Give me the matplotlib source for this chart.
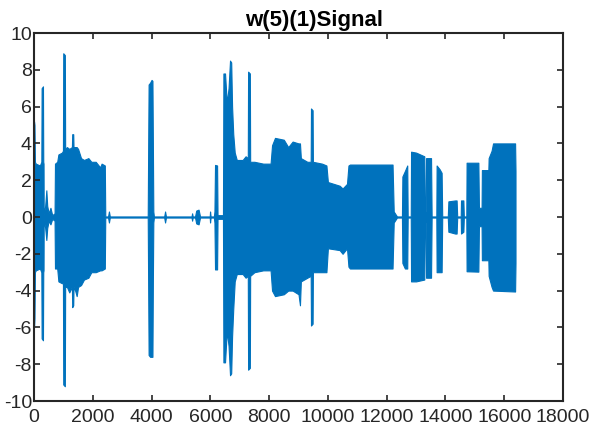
import numpy as np
import matplotlib.pyplot as plt

# Envelope of the recorded signal: sample index, upper and lower amplitude
env_t = [0, 15, 30, 60, 200, 250, 260, 305, 315, 325, 330, 380, 420, 450, 500, 560, 620, 700,
         714, 790, 830, 950, 985, 995, 1050, 1060, 1120, 1200, 1290, 1300, 1335, 1345, 1400, 1452, 1500,
         1600, 1700, 1850, 1950, 2100, 2250, 2300, 2410, 2425, 2520, 2550, 2580,
         3870, 3885, 3900, 3950, 4000, 4030, 4045, 4060, 4080, 4430, 4460, 4490,
         5360, 5380, 5400, 5480, 5520, 5600, 5650, 5980, 5990, 6010, 6120, 6140,
         6160, 6230, 6245, 6430, 6445, 6500, 6560, 6620, 6670, 6710, 6740, 6780, 6830,
         6900, 7100, 7200, 7275, 7285, 7345, 7355, 7500, 7800, 8050, 8100, 8200, 8500,
         8650, 8800, 9000, 9050, 9080, 9300, 9415, 9425, 9480, 9490, 9800, 9950,
         10000, 10400, 10500, 10650, 10700, 10750, 12200, 12240, 12350, 12520,
         12535, 12620, 12700, 12715, 12820, 12830, 13000, 13280, 13300, 13330,
         13340, 13510, 13530, 13690, 13700, 13800, 13870, 13890, 14080, 14100,
         14330, 14380, 14400, 14520, 14530, 14610, 14625, 14710, 14720, 15120,
         15140, 15230, 15240, 15460, 15470, 15570, 15620, 16370, 16384]
env_hi = [5.2, 5.0, 3.0, 2.9, 2.8, 3.0, 7.0, 7.1, 3.0, 2.9, 0.1, 0.6, 1.45, 0.6, 0.2, 0.5, 0.1, 0.2,
          2.9, 3.0, 3.4, 3.5, 3.6, 8.9, 8.8, 3.7, 3.8, 3.7, 3.8, 4.5, 4.5, 3.8, 3.8, 3.8, 3.7,
          3.2, 3.1, 3.2, 3.0, 3.0, 2.7, 2.9, 2.8, 0.03, 0.03, 0.3, 0.03,
          0.03, 3.8, 7.2, 7.3, 7.45, 7.4, 4.0, 0.3, 0.03, 0.03, 0.3, 0.03,
          0.03, 0.2, 0.03, 0.03, 0.35, 0.4, 0.03, 0.03, 0.3, 0.03, 0.03, 0.3,
          2.83, 2.8, 0.1, 0.1, 7.8, 7.8, 6.2, 7.0, 8.5, 8.4, 6.0, 4.5, 3.5,
          3.1, 3.1, 3.3, 3.2, 7.9, 7.8, 3.0, 3.0, 2.9, 2.9, 3.9, 4.3, 4.2,
          3.8, 4.1, 4.0, 4.0, 3.2, 3.0, 3.0, 5.9, 5.8, 3.0, 2.9, 2.8,
          1.9, 1.7, 1.55, 1.8, 2.8, 2.85, 2.85, 0.3, 0.03, 0.03,
          2.2, 2.5, 2.8, 0.03, 0.03, 3.55, 3.5, 3.3, 0.3, 0.3,
          3.2, 3.2, 0.03, 0.03, 2.8, 2.6, 2.4, 0.03, 0.03, 0.85,
          0.9, 0.9, 0.03, 0.03, 0.9, 0.9, 0.03, 0.03, 2.95, 2.95,
          0.5, 0.5, 2.55, 2.55, 3.2, 3.6, 4.0, 4.0, 2.5]
env_lo = [-6.0, -5.5, -3.0, -2.9, -2.8, -3.0, -6.6, -6.7, -3.0, -2.9, -0.1, -0.6, -1.25, -0.6, -0.2, -0.4, -0.1, -0.2,
          -2.8, -2.8, -3.5, -3.6, -3.6, -9.1, -9.2, -3.8, -3.8, -4.1, -3.8, -4.9, -4.8, -3.8, -4.0, -4.3, -3.8,
          -3.7, -3.4, -3.3, -3.0, -3.0, -2.9, -2.9, -2.8, -0.03, -0.03, -0.3, -0.03,
          -0.03, -3.8, -7.5, -7.6, -7.6, -7.6, -3.5, -0.3, -0.03, -0.03, -0.3, -0.03,
          -0.03, -0.2, -0.03, -0.03, -0.35, -0.4, -0.03, -0.03, -0.3, -0.03, -0.03, -0.3,
          -2.85, -2.85, -0.1, -0.1, -7.9, -7.9, -6.2, -7.0, -8.6, -8.5, -6.5, -5.0, -3.5,
          -3.1, -3.1, -3.3, -3.2, -8.3, -8.2, -3.2, -3.0, -2.9, -2.9, -4.0, -4.3, -4.2,
          -4.0, -4.0, -4.2, -4.8, -3.5, -3.3, -3.2, -5.9, -5.8, -3.0, -3.0, -3.0,
          -1.7, -1.8, -2.0, -1.7, -2.7, -2.8, -2.8, -0.3, -0.03, -0.03,
          -2.5, -2.8, -2.8, -0.03, -0.03, -3.5, -3.5, -3.4, -0.3, -0.3,
          -3.3, -3.3, -0.03, -0.03, -3.0, -3.0, -3.0, -0.03, -0.03, -0.8,
          -0.9, -0.9, -0.03, -0.03, -0.9, -0.8, -0.03, -0.03, -2.95, -2.97,
          -0.5, -0.5, -2.35, -2.35, -3.2, -3.8, -4.0, -4.05, -2.5]

x_ticks = list(range(0, 18001, 2000))
y_ticks = list(range(-10, 11, 2))

blue = '#0072BD'
dark = '#262626'

plt.rcParams['font.family'] = ['Liberation Sans', 'DejaVu Sans']
plt.rcParams['axes.unicode_minus'] = False

fig = plt.figure(figsize=(5.97, 4.28), dpi=100)
ax = fig.add_axes([34 / 597, 27 / 428, 529 / 597, 368 / 428])

t = np.array(env_t)
ax.fill_between(t, env_lo, env_hi, color=blue, linewidth=0.8, edgecolor=blue)

ax.set_xlim(0, 18000)
ax.set_ylim(-10, 10)
ax.set_xticks(x_ticks)
ax.set_yticks(y_ticks)
ax.tick_params(direction='in', length=4, width=1.2, colors=dark,
               top=True, right=True, labelsize=14)
ax.tick_params(axis='x', pad=6)
ax.tick_params(axis='y', pad=1.5)
for s in ax.spines.values():
    s.set_linewidth(1.5)
    s.set_color(dark)

ax.set_title('w(5)(1)Signal', fontsize=16, fontweight='bold', x=0.529, pad=5)

fig.savefig('out.png', dpi=100)
